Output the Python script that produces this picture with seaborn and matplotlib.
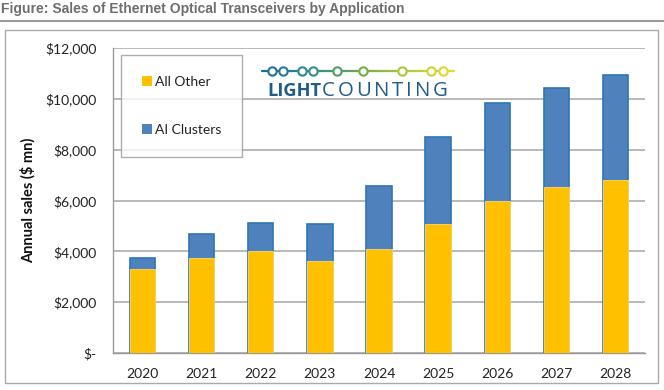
import matplotlib
matplotlib.use("Agg")
import matplotlib.pyplot as plt
import seaborn as sns
import pandas as pd
import numpy as np
from matplotlib.patches import Rectangle, Patch
from matplotlib.lines import Line2D

years = ["2020", "2021", "2022", "2023", "2024", "2025", "2026", "2027", "2028"]
all_other = [3300, 3720, 4000, 3620, 4100, 5060, 6000, 6530, 6800]
ai_clusters = [450, 970, 1110, 1460, 2470, 3420, 3850, 3890, 4150]
y_ticks = [0, 2000, 4000, 6000, 8000, 10000, 12000]
y_ticklabels = ["$-", "$2,000", "$4,000", "$6,000", "$8,000", "$10,000", "$12,000"]

YELLOW = "#FFC000"
BLUE = "#4F81BD"
BLUE_EDGE = "#2E75B6"
GRID = "#B3B3B3"

sns.set_style("white")
plt.rcParams["font.family"] = ["Lato", "DejaVu Sans"]

df = pd.DataFrame({"year": years, "other": all_other,
                   "total": [o + a for o, a in zip(all_other, ai_clusters)]})

W, H = 664, 390
fig = plt.figure(figsize=(W / 100, H / 100), dpi=100)

def fx(px):
    return px / W

def fy(py):
    return 1 - py / H

ax = fig.add_axes([fx(113), fy(353), fx(645) - fx(113), fy(48) - fy(353)])

sns.barplot(data=df, x="year", y="total", color=BLUE, saturation=1, width=0.43,
            edgecolor=BLUE_EDGE, linewidth=1.2, ax=ax, zorder=3)
sns.barplot(data=df, x="year", y="other", color=YELLOW, saturation=1, width=0.43,
            edgecolor="#FFD966", linewidth=0.6, ax=ax, zorder=4)

ax.set_xlim(-0.5, len(years) - 0.5)
ax.set_ylim(0, 12000)
ax.set_yticks(y_ticks)
ax.set_yticklabels(y_ticklabels, fontsize=10, color="#222222")
ax.set_xticks(range(len(years)))
ax.set_xticklabels(years, fontsize=10, color="#222222")
ax.set_xticks(np.arange(-0.5, len(years), 1.0), minor=True)
ax.tick_params(axis="x", which="major", length=0, pad=11)
ax.tick_params(axis="x", which="minor", length=5, width=1, color="#999999", direction="out")
ax.tick_params(axis="y", which="major", length=5, width=1, color="#999999", direction="out", pad=7)
ax.set_xlabel("")
ax.set_ylabel("Annual sales ($ mn)", fontsize=10.5, fontweight="bold", color="#111111", labelpad=7)
ax.yaxis.grid(True, color=GRID, linewidth=1.3, zorder=0)
ax.set_axisbelow(True)
for s in ["top", "right"]:
    ax.spines[s].set_visible(False)
for s in ["left", "bottom"]:
    ax.spines[s].set_color("#999999")
    ax.spines[s].set_linewidth(1.0)

# legend
handles = [Patch(facecolor=YELLOW, edgecolor="none", label="All Other"),
           Patch(facecolor=BLUE, edgecolor="none", label="AI Clusters")]
leg = fig.legend(handles=handles, loc="upper left", bbox_to_anchor=(fx(121), fy(55)),
                 frameon=True, fancybox=False, fontsize=10, borderpad=1.5,
                 labelspacing=2.6, handlelength=0.7, handleheight=0.7,
                 handletextpad=0.25, borderaxespad=0)
leg.get_frame().set_edgecolor("#999999")
leg.get_frame().set_linewidth(1.0)
for t in leg.get_texts():
    t.set_color("#222222")

# title and frames
fig.text(fx(1), fy(9), "Figure: Sales of Ethernet Optical Transceivers by Application",
         fontsize=10, fontweight="bold", color="#6E6E6E", family="Liberation Sans",
         ha="left", va="center")
fig.add_artist(Line2D([0, 1], [fy(21), fy(21)], color="#9A9A9A", linewidth=1.5))
fig.add_artist(Rectangle((fx(5), fy(383)), fx(658) - fx(5), fy(30) - fy(383),
                         fill=False, edgecolor="#AAAAAA", linewidth=1.0))

# logo
cmap = matplotlib.colors.LinearSegmentedColormap.from_list(
    "lc", ["#1F6A9A", "#2E8C8C", "#6DAA4A", "#B5C93A", "#E3DD2E"])
line_x0, line_x1, ly = 262, 454, 71
nseg = 40
xs = np.linspace(line_x0, line_x1, nseg + 1)
for i in range(nseg):
    c = cmap((xs[i] - line_x0) / (line_x1 - line_x0))
    fig.add_artist(Line2D([fx(xs[i]), fx(xs[i + 1])], [fy(ly), fy(ly)], color=c, linewidth=1.6))
for cx in [272, 283, 302, 313, 337, 363, 402, 431, 443]:
    c = cmap((cx - line_x0) / (line_x1 - line_x0))
    fig.add_artist(Line2D([fx(cx)], [fy(ly)], marker="o", markersize=6,
                          markerfacecolor="white", markeredgecolor=c, markeredgewidth=1.5))

renderer = fig.canvas.get_renderer()
LOGO = "#1E5C8C"

# "LIGHT": bold, scaled to fit its width
t_light = fig.text(fx(267), fy(91), "LIGHT", fontsize=10, fontweight="bold", color=LOGO,
                   family="Open Sans", ha="left", va="center")
w10 = t_light.get_window_extent(renderer).width
fs = 10 * (321 - 267) / w10
t_light.set_fontsize(fs)

# "COUNTING": regular, letter-spaced to fit
s = "COUNTING"
arts = [fig.text(0, fy(91), ch, fontsize=fs * 1.12, color=LOGO, family="Open Sans",
                 ha="left", va="center") for ch in s]
widths = [a.get_window_extent(renderer).width for a in arts]
gap = max(0.0, (448 - 322 - sum(widths)) / (len(s) - 1))
x = 322
for a, w in zip(arts, widths):
    a.set_x(fx(x))
    x += w + gap

fig.savefig("out.png", dpi=100)
